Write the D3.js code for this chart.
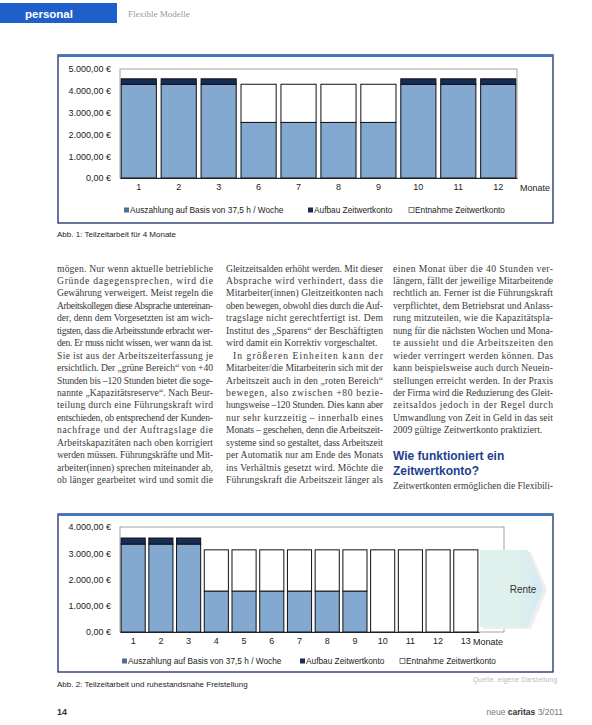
<!DOCTYPE html>
<html><head><meta charset="utf-8">
<script src="https://cdn.jsdelivr.net/npm/d3@7"></script>
<style>body{margin:0;background:#fff}svg{display:block}</style>
</head><body>
<script>
// ---------- DATA ----------
const months1 = ["1","2","3","6","7","8","9","10","11","12"];
const auszahlung1 = [4300,4300,4300,2550,2550,2550,2550,4300,4300,4300];
const aufbau1 =     [250,250,250,0,0,0,0,250,250,250];
const entnahme1 =   [0,0,0,1750,1750,1750,1750,0,0,0];
const yTicks1 = [0,1000,2000,3000,4000,5000];

const months2 = ["1","2","3","4","5","6","7","8","9","10","11","12","13"];
const auszahlung2 = [3350,3350,3350,1560,1560,1560,1560,1560,1560,0,0,0,0];
const aufbau2 =     [230,230,230,0,0,0,0,0,0,0,0,0,0];
const entnahme2 =   [0,0,0,1570,1570,1570,1570,1570,1570,3130,3130,3130,3130];
const yTicks2 = [0,1000,2000,3000,4000];

const seriesNames = ["Auszahlung auf Basis von 37,5 h / Woche","Aufbau Zeitwertkonto","Entnahme Zeitwertkonto"];
const seriesColors = ["#84a9d1","#172c57","#ffffff"];

const col1 = [
"mögen. Nur wenn aktuelle betriebliche",
"Gründe dagegensprechen, wird die",
"Gewährung verweigert. Meist regeln die",
"Arbeitskollegen diese Absprache untereinan-",
"der, denn dem Vorgesetzten ist am wich-",
"tigsten, dass die Arbeitsstunde erbracht wer-",
"den. Er muss nicht wissen, wer wann da ist.",
"Sie ist aus der Arbeitszeiterfassung je",
"ersichtlich. Der „grüne Bereich“ von +40",
"Stunden bis –120 Stunden bietet die soge-",
"nannte „Kapazitätsreserve“. Nach Beur-",
"teilung durch eine Führungskraft wird",
"entschieden, ob entsprechend der Kunden-",
"nachfrage und der Auftragslage die",
"Arbeitskapazitäten nach oben korrigiert",
"werden müssen. Führungskräfte und Mit-",
"arbeiter(innen) sprechen miteinander ab,",
"ob länger gearbeitet wird und somit die"];
const col2 = [
"Gleitzeitsalden erhöht werden. Mit dieser",
"Absprache wird verhindert, dass die",
"Mitarbeiter(innen) Gleitzeitkonten nach",
"oben bewegen, obwohl dies durch die Auf-",
"tragslage nicht gerechtfertigt ist. Dem",
"Institut des „Sparens“ der Beschäftigten",
"wird damit ein Korrektiv vorgeschaltet.",
"In größeren Einheiten kann der",
"Mitarbeiter/die Mitarbeiterin sich mit der",
"Arbeitszeit auch in den „roten Bereich“",
"bewegen, also zwischen +80 bezie-",
"hungsweise –120 Stunden. Dies kann aber",
"nur sehr kurzzeitig – innerhalb eines",
"Monats – geschehen, denn die Arbeitszeit-",
"systeme sind so gestaltet, dass Arbeitszeit",
"per Automatik nur am Ende des Monats",
"ins Verhältnis gesetzt wird. Möchte die",
"Führungskraft die Arbeitszeit länger als"];
const col3 = [
"einen Monat über die 40 Stunden ver-",
"längern, fällt der jeweilige Mitarbeitende",
"rechtlich an. Ferner ist die Führungskraft",
"verpflichtet, dem Betriebsrat und Anlass-",
"rung mitzuteilen, wie die Kapazitätspla-",
"nung für die nächsten Wochen und Mona-",
"te aussieht und die Arbeitszeiten den",
"wieder verringert werden können. Das",
"kann beispielsweise auch durch Neuein-",
"stellungen erreicht werden. In der Praxis",
"der Firma wird die Reduzierung des Gleit-",
"zeitsaldos jedoch in der Regel durch",
"Umwandlung von Zeit in Geld in das seit",
"2009 gültige Zeitwertkonto praktiziert."];
const heading = ["Wie funktioniert ein","Zeitwertkonto?"];
const col3b = ["Zeitwertkonten ermöglichen die Flexibili-"];

// ---------- SVG ----------
const W = 592, H = 725;
const svg = d3.select("body").append("svg").attr("width", W).attr("height", H)
  .style("font-family", "'Liberation Sans', Arial, sans-serif");

// header
svg.append("rect").attr("x", 0).attr("y", 3).attr("width", 117).attr("height", 20).attr("fill", "#1f5fc9");
svg.append("text").attr("x", 25).attr("y", 17.5).text("personal")
  .attr("fill", "#fff").attr("font-weight", "bold").attr("font-size", 11.5);
svg.append("text").attr("x", 128).attr("y", 17).text("Flexible Modelle")
  .attr("fill", "#9a9a9a").attr("font-size", 9).attr("font-family", "'Liberation Serif', serif");

const locale = d3.formatLocale({decimal: ",", thousands: ".", grouping: [3], currency: ["", " €"]});
const fmt = v => locale.format(",.2f")(v) + " €";

function drawChart(cfg) {
  const g = svg.append("g");
  // frame
  g.append("rect").attr("x", cfg.frame[0]).attr("y", cfg.frame[1]).attr("width", cfg.frame[2]).attr("height", cfg.frame[3])
    .attr("fill", "#fff").attr("stroke", "#1b2a66").attr("stroke-width", 1.3);
  g.append("line").attr("x1", cfg.frame[0]).attr("x2", cfg.frame[0] + cfg.frame[2])
    .attr("y1", cfg.frame[1] + 1).attr("y2", cfg.frame[1] + 1).attr("stroke", "#3a78c9").attr("stroke-width", 2);

  const x = d3.scaleBand().domain(cfg.months).range(cfg.xRange).paddingInner(cfg.pin).paddingOuter(cfg.pout);
  const y = d3.scaleLinear().domain([0, cfg.yMax]).range(cfg.yRange);

  // plot area
  g.append("rect").attr("x", cfg.plotX[0]).attr("y", y(cfg.yMax)).attr("width", cfg.plotX[1] - cfg.plotX[0])
    .attr("height", y(0) - y(cfg.yMax)).attr("fill", "none").attr("stroke", "#8a8a8a").attr("stroke-width", 0.8);

  // y axis
  const ya = g.append("g").attr("transform", `translate(${cfg.plotX[0]},0)`)
    .call(d3.axisLeft(y).tickValues(cfg.ticks).tickFormat(fmt).tickSize(0).tickPadding(9));
  ya.select(".domain").remove();
  ya.selectAll("text").attr("font-size", 9).attr("fill", "#222").attr("font-family", "'Liberation Sans', Arial, sans-serif");

  // stacked bars
  const rows = cfg.months.map((m, i) => ({m, a: cfg.aus[i], b: cfg.auf[i], c: cfg.ent[i]}));
  const stack = d3.stack().keys(["a", "b", "c"])(rows);
  stack.forEach((s, si) => {
    g.append("g").selectAll("rect").data(s.filter(d => d[1] - d[0] > 0)).join("rect")
      .attr("x", d => x(d.data.m)).attr("width", x.bandwidth())
      .attr("y", d => y(d[1])).attr("height", d => y(d[0]) - y(d[1]))
      .attr("fill", seriesColors[si]).attr("stroke", "#111").attr("stroke-width", 1);
  });

  // x axis
  const xa = g.append("g").attr("transform", `translate(0,${y(0)})`)
    .call(d3.axisBottom(x).tickSize(0).tickPadding(6));
  xa.select(".domain").attr("stroke", "#222");
  xa.selectAll("text").attr("font-size", 9).attr("fill", "#222").attr("font-family", "'Liberation Sans', Arial, sans-serif");
  g.append("text").attr("x", cfg.monateX).attr("y", y(0) + 13).text("Monate")
    .attr("font-size", 9).attr("fill", "#222");

  if (cfg.rente) cfg.rente(g, x, y);

  // legend
  const lg = g.append("g").attr("font-size", 8.3).attr("fill", "#222");
  cfg.legendX.forEach((lx, i) => {
    lg.append("rect").attr("x", lx).attr("y", cfg.legendY - 5.5).attr("width", 5).attr("height", 5)
      .attr("fill", seriesColors[i] === "#ffffff" ? "#fff" : (i === 0 ? "#4a6f99" : "#172c57"))
      .attr("stroke", i === 2 ? "#444" : "none").attr("stroke-width", 0.7);
    lg.append("text").attr("x", lx + 6).attr("y", cfg.legendY).text(seriesNames[i]);
  });

  svg.append("text").attr("x", 57).attr("y", cfg.captionY).text(cfg.caption)
    .attr("font-size", 8).attr("fill", "#222");
}

drawChart({
  frame: [58, 55, 495, 168],
  months: months1, aus: auszahlung1, auf: aufbau1, ent: entnahme1,
  xRange: [120, 517], pin: 0.12, pout: 0.03, plotX: [120, 517],
  yMax: 5000, yRange: [178, 69], ticks: yTicks1, monateX: 520,
  legendX: [124, 308, 409], legendY: 213,
  caption: "Abb. 1: Teilzeitarbeit für 4 Monate", captionY: 237
});

drawChart({
  frame: [58, 514, 495, 158],
  months: months2, aus: auszahlung2, auf: aufbau2, ent: entnahme2,
  xRange: [120, 479], pin: 0.13, pout: 0.04, plotX: [120, 504],
  yMax: 4000, yRange: [632, 527], ticks: yTicks2, monateX: 473,
  legendX: [122, 300, 400], legendY: 664,
  caption: "Abb. 2: Teilzeitarbeit und ruhestandsnahe Freistellung", captionY: 687,
  rente: (g) => {
    const defs = svg.append("defs");
    const gr = defs.append("linearGradient").attr("id", "rg").attr("x1", "0").attr("x2", "1");
    gr.append("stop").attr("offset", "0.55").attr("stop-color", "#dff1ec");
    gr.append("stop").attr("offset", "1").attr("stop-color", "#d3e8f6");
    g.append("path").attr("d", "M483,552 L531,552 L547,590 L531,629 L483,629 Z").attr("fill", "#eeeeee");
    g.append("path").attr("d", "M480,550 L528,550 L543,589 L528,627 L480,627 Z").attr("fill", "url(#rg)");
    g.append("text").attr("x", 523).attr("y", 593).attr("text-anchor", "middle").text("Rente")
      .attr("font-size", 10).attr("fill", "#333");
  }
});

// body text
const serif = "'Liberation Serif', 'Times New Roman', serif";
function column(lines, x0, width, y0, lh, noJust, indent) {
  const t = svg.append("g").attr("font-family", serif).attr("font-size", 9.6).attr("fill", "#3a3a3a");
  lines.forEach((l, i) => {
    const ind = (indent && indent.includes(i)) ? 7 : 0;
    const el = t.append("text").attr("x", x0 + ind).attr("y", y0 + i * lh).text(l);
    if (!(noJust && noJust.includes(i))) el.attr("textLength", width - ind).attr("lengthAdjust", "spacing");
  });
}
column(col1, 57, 156, 271.5, 12.45);
column(col2, 226, 157, 271.5, 12.45, [6], [7]);
column(col3, 393, 160, 271.5, 12.45, [13]);
svg.append("g").attr("font-size", 12).attr("font-weight", "bold").attr("fill", "#1d3f8f")
  .selectAll("text").data(heading).join("text")
  .attr("x", 393).attr("y", (d, i) => 460 + i * 14.5).text(d => d);
column(col3b, 393, 160, 488.5, 12.45);

// source + footer
svg.append("text").attr("x", 473).attr("y", 682).text("Quelle: eigene Darstellung")
  .attr("font-size", 6.5).attr("fill", "#b8b8b8").attr("textLength", 84);
svg.append("text").attr("x", 57).attr("y", 715).text("14").attr("font-size", 9).attr("font-weight", "bold").attr("fill", "#333");
const ft = svg.append("text").attr("x", 563).attr("y", 715).attr("text-anchor", "end").attr("font-size", 8.5).attr("fill", "#777");
ft.append("tspan").text("neue ");
ft.append("tspan").text("caritas").attr("font-weight", "bold").attr("fill", "#333");
ft.append("tspan").text(" 3/2011");
</script>
</body></html>
